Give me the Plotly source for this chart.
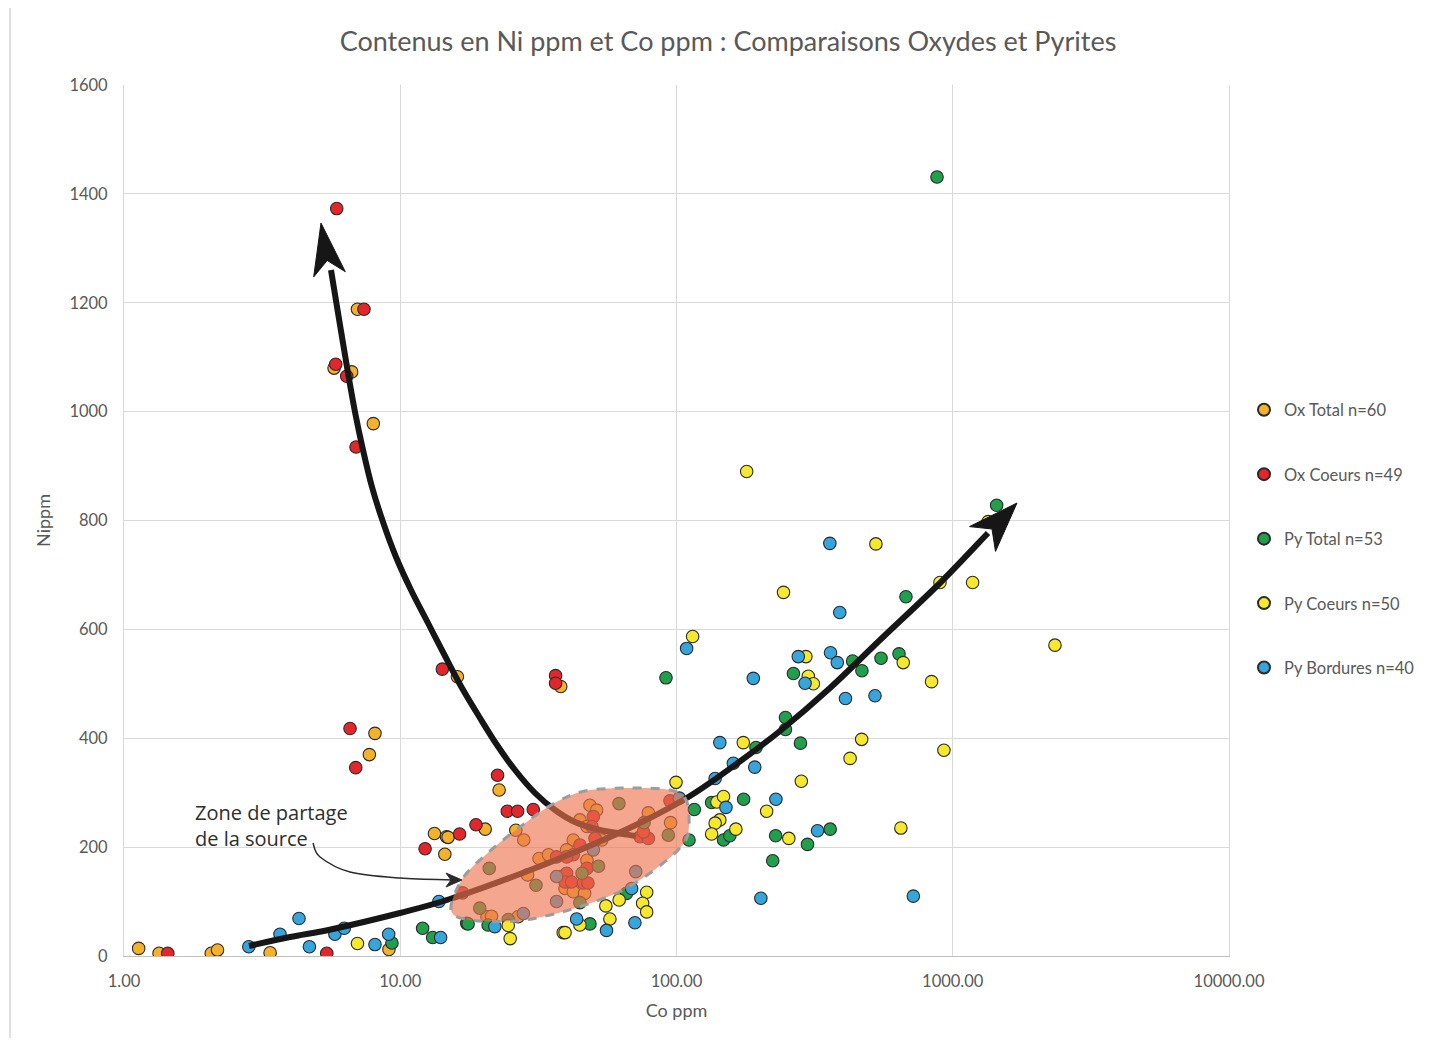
import plotly.graph_objects as go

# ---- data (Co ppm, Ni ppm) ----
ox_total_co = [1.13, 1.34, 2.07, 2.18, 3.38, 9.1, 7.0, 5.76, 6.67, 7.99, 8.1, 7.73, 13.3, 14.7, 14.5,
               16.1, 38.1, 22.8, 20.3, 14.9, 26.2, 28.0, 28.9, 31.8, 34.4, 20.6, 21.4, 26.7, 48.6, 51.4,
               79.1, 95.2, 44.7, 47.4, 53.6, 42.3, 40.0, 47.4, 37.9, 39.5, 42.3, 46.5]
ox_total_ni = [14, 5, 5, 11, 6, 12, 1188, 1080, 1073, 978, 409, 370, 225, 219, 187,
               513, 495, 305, 233, 218, 231, 213, 149, 179, 186, 72, 73, 72, 277, 268,
               263, 245, 250, 238, 213, 213, 195, 176, 146, 124, 118, 115]

ox_coeurs_co = [1.44, 5.42, 6.58, 6.9, 12.3, 5.89, 7.39, 5.84, 6.4, 6.92, 14.2, 36.5, 36.5, 22.5,
                24.4, 26.6, 30.3, 18.8, 16.4, 16.8, 94.7, 73.8, 79.1, 75.9, 50.0, 49.4, 50.7, 44.7,
                42.3, 40.0, 36.8, 47.4, 40.0, 39.5, 41.7, 46.0, 47.8]
ox_coeurs_ni = [5, 5, 418, 346, 197, 1373, 1188, 1087, 1065, 935, 527, 515, 501, 332,
                266, 266, 269, 241, 224, 116, 285, 219, 216, 228, 256, 238, 216, 204,
                186, 182, 182, 161, 152, 136, 136, 134, 134]

py_total_co = [9.33, 12.05, 13.1, 21.0, 19.4, 20.8, 24.6, 17.4, 17.6, 31.0, 52.2, 45.5, 44.7, 61.9,
               76.3, 93.4, 116, 111, 65.9, 48.6, 91.6, 434, 469, 550, 639, 265, 248, 248, 194, 281,
               134, 175, 148, 156, 228.5, 360, 298, 223, 677, 1442, 877]
py_total_ni = [24, 51, 34, 161, 88, 57, 67, 60, 59, 130, 165, 152, 98, 280,
               245, 222, 269, 213, 115, 59, 511, 542, 524, 547, 555, 519, 438, 416, 383, 391,
               282, 288, 213, 221, 221, 233, 205, 175, 660, 828, 1431]

py_coeurs_co = [7.0, 24.6, 25.0, 38.9, 99.6, 78.0, 75.4, 78.0, 62.0, 55.5, 57.4, 44.7, 39.5, 114.4,
                294, 662, 838, 300, 313, 174.5, 468, 425, 929, 283, 140, 148, 212, 143.5, 138, 164,
                134, 255, 649, 179.5, 527, 244, 899, 1180, 1343, 2344]
py_coeurs_ni = [23, 56, 32, 43, 319, 117, 97, 81, 103, 92, 68, 57, 43, 587,
                550, 539, 504, 514, 500, 392, 398, 363, 378, 321, 283, 293, 266, 250, 244, 233,
                224, 216, 235, 890, 757, 668, 686, 686, 798, 571]

py_bord_co = [2.83, 3.67, 4.3, 4.69, 5.8, 6.27, 8.1, 9.08, 13.8, 14.0, 22.0, 27.9, 36.8, 36.8, 50.0,
              71.2, 68.8, 70.7, 55.8, 43.5, 102.4, 108.8, 390, 189.7, 276, 361, 382, 292, 409, 523,
              143.5, 160.6, 192, 138, 151, 229, 324, 202, 720, 359]
py_bord_ni = [17, 40, 69, 17, 40, 51, 21, 40, 100, 34, 54, 78, 146, 100, 195,
              155, 124, 61, 47, 68, 290, 565, 631, 510, 550, 557, 539, 501, 473, 478,
              392, 354, 347, 326, 273, 288, 230, 106, 110, 758]

series_names = ["Ox Total n=60", "Ox Coeurs n=49", "Py Total n=53", "Py Coeurs n=50", "Py Bordures n=40"]
series_colors = ["#F4B12B", "#E3262C", "#20A04C", "#F6E82C", "#36A5DC"]
x_ticks = [1, 10, 100, 1000, 10000]

# ---- page frame in pixels (the page body adds an 8px margin) ----
BODY = 8
W, H = 1429 - 2 * BODY, 1046 - 2 * BODY
PL, PR, PT, PB = 124, 1229, 85, 956


def to_paper(px, py):
    return (px - PL) / (PR - PL), (PB - py) / (PB - PT)


def smooth_path(pts, closed=False):
    P = [to_paper(*p) for p in pts]
    ext = [P[-1]] + P + [P[0], P[1]] if closed else [P[0]] + P + [P[-1]]
    n = len(P) if closed else len(P) - 1
    d = "M %.5f,%.5f" % P[0]
    for i in range(n):
        p0, p1, p2, p3 = ext[i], ext[i + 1], ext[i + 2], ext[i + 3]
        c1 = (p1[0] + (p2[0] - p0[0]) / 6, p1[1] + (p2[1] - p0[1]) / 6)
        c2 = (p2[0] - (p3[0] - p1[0]) / 6, p2[1] - (p3[1] - p1[1]) / 6)
        d += " C %.5f,%.5f %.5f,%.5f %.5f,%.5f" % (c1 + c2 + p2)
    if closed:
        d += " Z"
    return d


def poly_path(pts):
    P = [to_paper(*p) for p in pts]
    return "M " + " L ".join("%.5f,%.5f" % p for p in P) + " Z"


fig = go.Figure()

xs = [ox_total_co, ox_coeurs_co, py_total_co, py_coeurs_co, py_bord_co]
ys = [ox_total_ni, ox_coeurs_ni, py_total_ni, py_coeurs_ni, py_bord_ni]
for i, (name, col) in enumerate(zip(series_names, series_colors)):
    fig.add_trace(go.Scatter(
        x=xs[i], y=ys[i], mode="markers", name=name, legendgroup=name,
        marker=dict(size=12.5, color=col, line=dict(color="#2A2A2A", width=1.1)),
    ))

ARROW = "#161616"
shapes = []
# thick curved arrow going up-left
left_curve = [(636, 836), (600, 830), (575, 822), (555, 810), (535, 793), (515, 770), (497, 745),
              (480, 718), (462, 688), (445, 656), (428, 623), (411, 590), (396, 557), (383, 522),
              (372, 487), (363, 450), (355, 412), (348, 373), (340, 325), (331, 270)]
shapes.append(dict(type="path", xref="paper", yref="paper", path=smooth_path(left_curve),
                   line=dict(color=ARROW, width=6), layer="above"))
shapes.append(dict(type="path", xref="paper", yref="paper",
                   path=poly_path([(321, 223), (345.3, 271.7), (327.2, 260.5), (313.7, 276.9)]),
                   fillcolor=ARROW, line=dict(color=ARROW, width=1), layer="above"))
# thick curved arrow going up-right
right_curve = [(249, 946), (290, 937), (333, 929), (400, 913), (450, 899), (520, 874), (580, 850),
               (640, 823), (690, 796), (735, 765), (780, 731), (830, 688), (880, 640), (940, 583),
               (988, 533)]
shapes.append(dict(type="path", xref="paper", yref="paper", path=smooth_path(right_curve),
                   line=dict(color=ARROW, width=6), layer="above"))
shapes.append(dict(type="path", xref="paper", yref="paper",
                   path=poly_path([(1017, 503), (995.5, 551.4), (992, 529), (969.5, 526.6)]),
                   fillcolor=ARROW, line=dict(color=ARROW, width=1), layer="above"))
# shared source zone
blob = [(451, 910), (463, 878), (490, 851), (520, 827), (553, 804), (585, 791), (630, 788),
        (670, 790), (686, 800), (689, 825), (684, 843), (662, 864), (625, 889), (585, 905),
        (550, 915), (515, 921), (470, 920)]
shapes.append(dict(type="path", xref="paper", yref="paper", path=smooth_path(blob, closed=True),
                   fillcolor="rgba(238,116,80,0.64)", line=dict(color="#9C9C9C", width=3, dash="dash"),
                   layer="above"))
# thin pointer arrow from the label
pointer = [(313, 843), (320, 857), (350, 872), (400, 878), (456, 880)]
shapes.append(dict(type="path", xref="paper", yref="paper", path=smooth_path(pointer),
                   line=dict(color="#2A2A2A", width=1.5), layer="above"))
shapes.append(dict(type="path", xref="paper", yref="paper",
                   path=poly_path([(462, 880), (446, 873), (451, 880), (446, 887)]),
                   fillcolor="#2A2A2A", line=dict(color="#2A2A2A", width=1), layer="above"))
# faint outer frame on the left edge
x0, _ = to_paper(10, 0)
_, ytop = to_paper(0, 0)
_, ybot = to_paper(0, 1046)
shapes.append(dict(type="line", xref="paper", yref="paper", x0=x0, x1=x0, y0=ybot, y1=ytop,
                   line=dict(color="#D4D4D4", width=1.5)))

lx, ly = to_paper(193, 797)
fig.add_annotation(text="Zone de partage<br>de la source", xref="paper", yref="paper",
                   x=lx, y=ly, xanchor="left", yanchor="top", showarrow=False, align="left",
                   font=dict(family="Open Sans", size=20, color="#2E2E2E"))

fig.update_layout(
    width=W, height=H, autosize=False,
    margin=dict(l=PL - BODY, r=W + BODY - PR, t=PT - BODY, b=H + BODY - PB, autoexpand=False),
    paper_bgcolor="white", plot_bgcolor="white",
    font=dict(family="Lato", color="#595959"),
    title=dict(text="Contenus en Ni ppm et Co ppm : Comparaisons Oxydes et Pyrites",
               x=(728 - BODY) / W, xanchor="center", y=1 - (42 - BODY) / H, yanchor="middle",
               font=dict(family="Lato", size=27, color="#595959")),
    shapes=shapes,
    showlegend=True,
    legend=dict(x=to_paper(1244, 0)[0], xanchor="left", y=to_paper(0, 539)[1], yanchor="middle",
                tracegroupgap=40, itemsizing="constant",
                font=dict(family="Lato", size=16.5, color="#595959"), bgcolor="rgba(0,0,0,0)"),
)
fig.update_xaxes(type="log", range=[0, 4], tickvals=x_ticks, tickformat=".2f",
                 showgrid=True, gridcolor="#D9D9D9", gridwidth=1,
                 showline=True, linecolor="#BFBFBF", linewidth=1, mirror=False,
                 ticks="outside", ticklen=10, tickcolor="rgba(0,0,0,0)",
                 tickfont=dict(family="Lato", size=16.5, color="#595959"),
                 title=dict(text="Co ppm", standoff=14, font=dict(family="Lato", size=18, color="#595959")),
                 zeroline=False)
fig.update_yaxes(range=[0, 1600], dtick=200, showgrid=True, gridcolor="#D9D9D9", gridwidth=1,
                 showline=True, linecolor="#D9D9D9", linewidth=1, mirror=True, zeroline=False,
                 ticks="outside", ticklen=12, tickcolor="rgba(0,0,0,0)",
                 tickfont=dict(family="Lato", size=16.5, color="#595959"),
                 title=dict(text="Nippm", standoff=14, font=dict(family="Lato", size=18, color="#595959")))

fig.write_html("out.html")
